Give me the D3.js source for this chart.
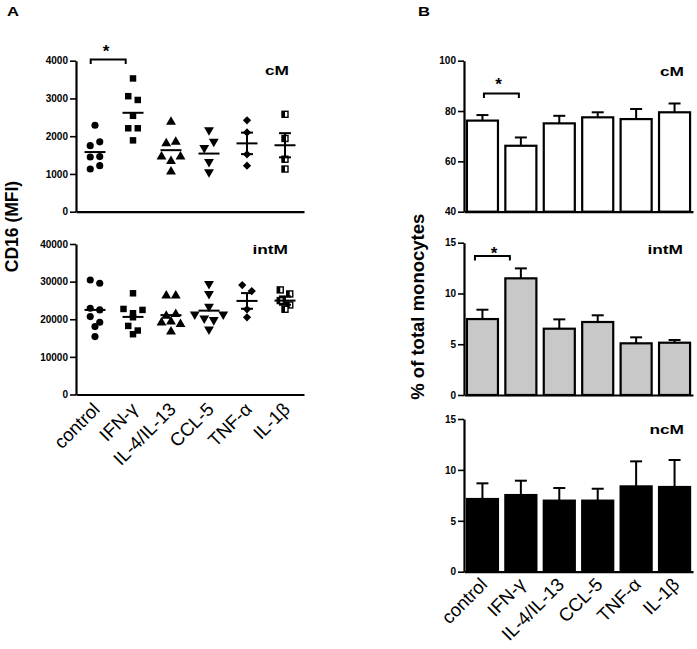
<!DOCTYPE html>
<html>
<head>
<meta charset="utf-8">
<script src="https://cdn.jsdelivr.net/npm/d3@7"></script>
<style>
  html, body { margin: 0; padding: 0; background: #fff; }
  svg { display: block; font-family: "Liberation Sans", Arial, sans-serif; }
</style>
</head>
<body>
<div id="chart"></div>
<script>
// ---------- data ----------
const categories = ["control", "IFN-\u03b3", "IL-4/IL-13", "CCL-5", "TNF-\u03b1", "IL-1\u03b2"];

// Panel A: CD16 (MFI), individual donors
const cmPoints = [
  [2290, 1750, 1850, 1450, 1460, 1130, 1220],
  [3530, 3060, 2960, 2540, 2210, 2210, 1890],
  [2380, 1810, 1850, 1460, 1340, 1460, 1060],
  [2160, 1690, 1860, 1320, 1050],
  [2420, 2100, 1520, 1220],
  [2580, 1940, 1390, 1130]
];
const cmMean = [1580, 2620, 1630, 1540, 1810, 1760];
const cmSem = [null, null, null, null, 285, 320];

const intmPoints = [
  [30440, 29560, 22920, 22480, 20710, 19200, 18050, 15400],
  [26900, 22740, 21600, 22480, 20530, 18230, 17000, 16020],
  [26280, 26280, 20880, 21330, 19100, 19360, 18670, 16700],
  [29390, 26730, 23350, 21330, 20270, 19810, 21330, 17340],
  [29100, 27500, 22650, 20530],
  [27800, 26730, 24960, 23800, 22650]
];
const intmMean = [22480, 20620, 21100, 22290, 24870, 24960];
const intmSem = [null, null, null, null, 2080, 1110];

const cmTicksA = [0, 1000, 2000, 3000, 4000];
const intmTicksA = [0, 10000, 20000, 30000, 40000];

// Panel B: % of total monocytes (mean + SEM)
const cmPct = [76.2, 66.2, 75.1, 77.5, 76.8, 79.5];
const cmPctErr = [2.2, 3.3, 3.0, 2.0, 4.0, 3.5];
const intmPct = [7.48, 11.49, 6.53, 7.19, 5.09, 5.15];
const intmPctErr = [0.92, 0.98, 0.92, 0.66, 0.59, 0.27];
const ncmPct = [7.14, 7.53, 6.98, 6.98, 8.38, 8.32];
const ncmPctErr = [1.54, 1.41, 1.24, 1.17, 2.46, 2.65];

const cmTicksB = [40, 60, 80, 100];
const smallTicksB = [0, 5, 10, 15];

const sigPair = ["control", "IFN-\u03b3"];

// ---------- drawing ----------
const W = 697, H = 649;
const svg = d3.select("#chart").append("svg").attr("width", W).attr("height", H);

const SX = 1.33; // horizontal stretch of bold titles in the original

function stretched(x, y, txt, size, anchor, weight) {
  svg.append("text")
    .attr("transform", `translate(${x},${y}) scale(${SX},1)`)
    .attr("text-anchor", anchor)
    .attr("font-size", size)
    .attr("font-weight", weight || "bold")
    .attr("fill", "#000")
    .text(txt);
}

function yAxis(g, y, ticks) {
  const ax = d3.axisLeft(y).tickValues(ticks).tickSize(6).tickPadding(2).tickSizeOuter(0).tickFormat(d3.format("d"));
  g.call(ax);
  g.select(".domain").attr("stroke", "#000").attr("stroke-width", 2.2);
  g.selectAll(".tick line").attr("stroke", "#000").attr("stroke-width", 1.6);
  g.selectAll(".tick text").attr("font-size", 10).attr("font-weight", "bold").attr("fill", "#000")
    .attr("font-family", "Liberation Sans, Arial, sans-serif");
}

function xAxis(g, x, withLabels, lx, ly) {
  const ax = d3.axisBottom(x).tickSize(0).tickSizeOuter(0).tickFormat(withLabels ? (d => d) : (() => ""));
  g.call(ax);
  g.select(".domain").attr("stroke", "#000").attr("stroke-width", 2.2);
  g.selectAll(".tick line").remove();
  if (withLabels) {
    g.selectAll(".tick text")
      .attr("x", 0).attr("y", 0).attr("dy", 0)
      .attr("transform", `translate(${lx},${ly}) rotate(-45)`)
      .attr("text-anchor", "end")
      .attr("font-size", 18.5)
      .attr("font-family", "Liberation Sans, Arial, sans-serif")
      .attr("fill", "#000");
  } else {
    g.selectAll(".tick text").remove();
  }
}

// beeswarm-like placement: points in the same vertical row are spread evenly
function swarm(values, ypx, spacing, thr) {
  const idx = values.map((v, i) => i).sort((a, b) => values[b] - values[a]);
  const rows = [];
  let cur = null;
  idx.forEach(i => {
    const yy = ypx(values[i]);
    if (cur && Math.abs(yy - cur.y0) <= thr) cur.items.push(i);
    else { cur = { y0: yy, items: [i] }; rows.push(cur); }
  });
  const off = new Array(values.length).fill(0);
  rows.forEach(r => {
    r.items.sort((a, b) => a - b);
    const n = r.items.length;
    r.items.forEach((i, k) => off[i] = (k - (n - 1) / 2) * spacing);
  });
  return off;
}

function drawMarker(g, ci, cx, cy) {
  const sym = d3.symbol();
  if (ci === 0) {
    g.append("path").attr("d", sym.type(d3.symbolCircle).size(40)()).attr("transform", `translate(${cx},${cy})`).attr("fill", "#000");
  } else if (ci === 1) {
    g.append("path").attr("d", sym.type(d3.symbolSquare).size(42)()).attr("transform", `translate(${cx},${cy})`).attr("fill", "#000");
  } else if (ci === 2) {
    g.append("path").attr("d", sym.type(d3.symbolTriangle).size(42)()).attr("transform", `translate(${cx},${cy})`).attr("fill", "#000");
  } else if (ci === 3) {
    g.append("path").attr("d", sym.type(d3.symbolTriangle).size(42)()).attr("transform", `translate(${cx},${cy}) rotate(180)`).attr("fill", "#000");
  } else if (ci === 4) {
    g.append("path").attr("d", sym.type(d3.symbolSquare).size(34)()).attr("transform", `translate(${cx},${cy}) rotate(45)`).attr("fill", "#000");
  } else {
    g.append("rect").attr("x", cx - 3).attr("y", cy - 3).attr("width", 6).attr("height", 6)
      .attr("fill", "#fff").attr("stroke", "#000").attr("stroke-width", 1.4);
    g.append("rect").attr("x", cx - 3).attr("y", cy - 3).attr("width", 3).attr("height", 6).attr("fill", "#000");
  }
}

function drawScatter(points, means, sems, y, x) {
  const g = svg.append("g");
  categories.forEach((c, ci) => {
    const cx = x(c) + x.bandwidth() / 2;
    const vals = points[ci];
    const off = swarm(vals, y, 9.5, 7);
    vals.forEach((v, k) => drawMarker(g, ci, cx + off[k], y(v)));
    // mean line
    g.append("line").attr("x1", cx - 10.5).attr("x2", cx + 10.5)
      .attr("y1", y(means[ci])).attr("y2", y(means[ci]))
      .attr("stroke", "#000").attr("stroke-width", 2);
    if (sems[ci] != null) {
      const yt = y(means[ci] + sems[ci]), yb = y(means[ci] - sems[ci]);
      g.append("line").attr("x1", cx).attr("x2", cx).attr("y1", yt).attr("y2", yb).attr("stroke", "#000").attr("stroke-width", 2);
      [yt, yb].forEach(yy => g.append("line").attr("x1", cx - 6).attr("x2", cx + 6).attr("y1", yy).attr("y2", yy).attr("stroke", "#000").attr("stroke-width", 2));
    }
  });
}

function drawBars(vals, errs, y, x, fill, base) {
  const g = svg.append("g");
  categories.forEach((c, ci) => {
    const cx = x(c) + x.bandwidth() / 2;
    const yt = y(vals[ci] + errs[ci]);
    g.append("line").attr("x1", cx).attr("x2", cx).attr("y1", y(vals[ci])).attr("y2", yt).attr("stroke", "#000").attr("stroke-width", 2);
    g.append("line").attr("x1", cx - 6).attr("x2", cx + 6).attr("y1", yt).attr("y2", yt).attr("stroke", "#000").attr("stroke-width", 2);
    g.append("rect").attr("x", x(c) + 1).attr("width", x.bandwidth() - 2)
      .attr("y", y(vals[ci])).attr("height", y(base) - y(vals[ci]))
      .attr("fill", fill).attr("stroke", "#000").attr("stroke-width", 2.2);
  });
}

function bracket(x1, x2, yTop, starX, starY) {
  svg.append("path").attr("d", `M${x1},${yTop + 4.5}V${yTop}H${x2}V${yTop + 4.5}`)
    .attr("fill", "none").attr("stroke", "#000").attr("stroke-width", 2);
  svg.append("text").attr("x", starX).attr("y", starY).attr("text-anchor", "middle")
    .attr("font-size", 17).attr("font-weight", "bold").text("*");
}

// ----- Panel A -----
const xA = d3.scaleBand().domain(categories).range([76, 304]).padding(0);
const yA1 = d3.scaleLinear().domain([0, 4000]).range([211.7, 60.7]);
const yA2 = d3.scaleLinear().domain([0, 40000]).range([394.5, 244]);

yAxis(svg.append("g").attr("transform", "translate(76,0)"), yA1, cmTicksA);
xAxis(svg.append("g").attr("transform", `translate(0,${yA1(0)})`), xA, false);
drawScatter(cmPoints, cmMean, cmSem, yA1, xA);

yAxis(svg.append("g").attr("transform", "translate(76,0)"), yA2, intmTicksA);
xAxis(svg.append("g").attr("transform", `translate(0,${yA2(0)})`), xA, true, 6, 16);
drawScatter(intmPoints, intmMean, intmSem, yA2, xA);

// significance in A
{
  const c0 = xA(sigPair[0]) + xA.bandwidth() / 2, c1 = xA(sigPair[1]) + xA.bandwidth() / 2;
  bracket(c0 - 4.3, c1 - 7.3, yA1(4035), c0 + 11, yA1(4035) - 2);
}

// ----- Panel B -----
const xB = d3.scaleBand().domain(categories).range([464, 693]).paddingInner(0.14).paddingOuter(0.05);
const yB1 = d3.scaleLinear().domain([40, 100]).range([211.7, 60.7]);
const yB2 = d3.scaleLinear().domain([0, 15]).range([395, 242.7]);
const yB3 = d3.scaleLinear().domain([0, 15]).range([571.7, 419]);

drawBars(cmPct, cmPctErr, yB1, xB, "#fff", 40);
yAxis(svg.append("g").attr("transform", "translate(464,0)"), yB1, cmTicksB);
xAxis(svg.append("g").attr("transform", `translate(0,${yB1(40)})`), xB, false);

drawBars(intmPct, intmPctErr, yB2, xB, "#c8c8c8", 0);
yAxis(svg.append("g").attr("transform", "translate(464,0)"), yB2, smallTicksB);
xAxis(svg.append("g").attr("transform", `translate(0,${yB2(0)})`), xB, false);

drawBars(ncmPct, ncmPctErr, yB3, xB, "#000", 0);
yAxis(svg.append("g").attr("transform", "translate(464,0)"), yB3, smallTicksB);
xAxis(svg.append("g").attr("transform", `translate(0,${yB3(0)})`), xB, true, 6, 14);

{
  const c0 = xB(sigPair[0]) + xB.bandwidth() / 2, c1 = xB(sigPair[1]) + xB.bandwidth() / 2;
  bracket(c0 + 1.5, c1 - 2, yB1(87), c0 + 16, yB1(87) - 3);
  bracket(c0 - 7.5, c1 - 11, yB2(13.7), c0 + 11.5, yB2(13.7) + 3);
}

// ----- titles -----
stretched(7, 16, "A", 12.5, "start");
stretched(418, 16, "B", 12.5, "start");
stretched(289, 75, "cM", 13, "end");
stretched(288, 254, "intM", 13, "end");
stretched(684, 76, "cM", 13, "end");
stretched(683, 254, "intM", 13, "end");
stretched(684, 434, "ncM", 13, "end");

svg.append("text").attr("transform", "translate(17.5,226.5) rotate(-90)")
  .attr("text-anchor", "middle").attr("font-size", 17.5).attr("font-weight", "bold").text("CD16 (MFI)");
svg.append("text").attr("transform", "translate(424,306.7) rotate(-90)")
  .attr("text-anchor", "middle").attr("font-size", 18.5).attr("font-weight", "bold").text("% of total monocytes");
</script>
</body>
</html>
